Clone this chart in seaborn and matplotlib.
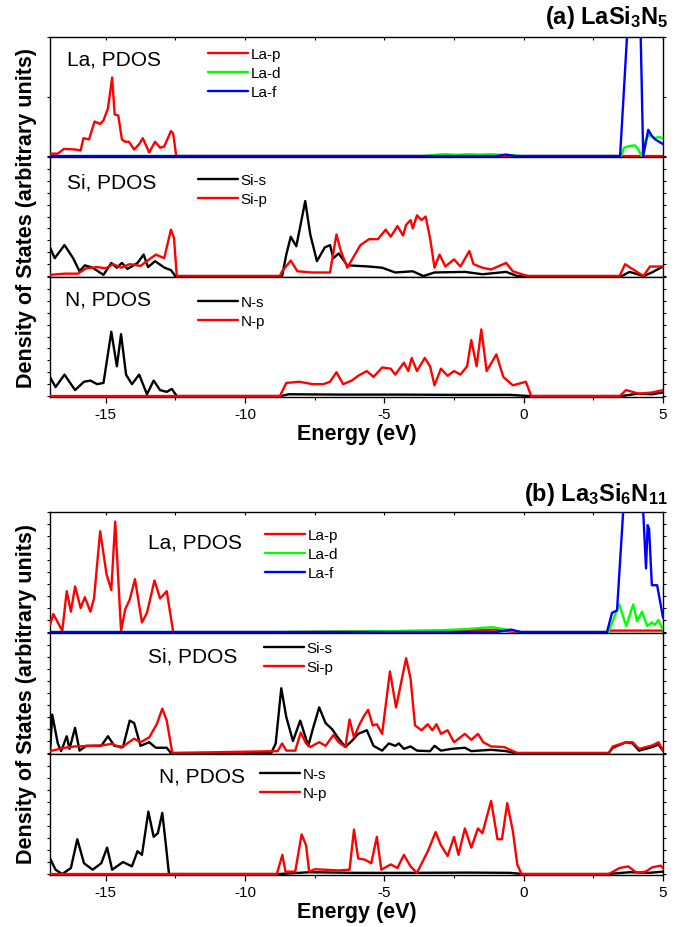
import matplotlib
matplotlib.use("Agg")
import matplotlib.pyplot as plt
from matplotlib.ticker import MultipleLocator, NullFormatter
import numpy as np
import pandas as pd
import seaborn as sns

# ---------------- data (energies in eV, DOS in arbitrary units) ----------------
x_ticks = [-15, -10, -5, 0, 5]
x_range = [-17, 5]

# (a) LaSi3N5 -- La
a_la_p_E = [-17, -16.72, -16.5, -16.1, -15.9, -15.8, -15.6, -15.4, -15.2, -15.08, -14.92, -14.77,
            -14.68, -14.55, -14.42, -14.3, -14.17, -13.98, -13.8, -13.67, -13.44, -13.23, -13.05,
            -12.9, -12.66, -12.58, -12.47, 5]
a_la_p_V = [0.02, 0.02, 0.06, 0.055, 0.047, 0.15, 0.14, 0.29, 0.27, 0.30, 0.40, 0.66,
            0.35, 0.34, 0.14, 0.12, 0.12, 0.055, 0.10, 0.15, 0.03, 0.12, 0.07,
            0.08, 0.21, 0.19, 0.0, 0.0]
a_la_d_E = [-17, -3.6, -3.2, -2.8, -2.4, -2.0, -1.6, -1.2, -0.8, -0.4, -0.1, 3.5, 3.6, 3.8, 4.0,
            4.1, 4.23, 4.35, 4.5, 4.7, 4.85, 5]
a_la_d_V = [0, 0, 0.01, 0.015, 0.01, 0.015, 0.012, 0.015, 0.01, 0.008, 0, 0, 0.07, 0.085, 0.09,
            0.06, 0, 0.12, 0.18, 0.15, 0.16, 0.15]
a_la_f_E = [-17, -1.0, -0.63, -0.3, 3.46, 3.72, 3.9, 4.05, 4.2, 4.29, 4.47, 4.6, 4.72, 5]
a_la_f_V = [0, 0, 0.012, 0, 0, 1.05, 1.8, 1.8, 1.0, 0.0, 0.22, 0.17, 0.14, 0.10]

# (a) LaSi3N5 -- Si
a_si_s_E = [-17, -16.83, -16.48, -16.17, -15.94, -15.75, -15.47, -15.08, -14.8, -14.6, -14.42,
            -14.22, -13.86, -13.64, -13.48, -13.23, -12.89, -12.66, -12.5, -8.67, -8.52, -8.36,
            -8.16, -7.84, -7.66, -7.42, -7.14, -6.95, -6.83, -6.64, -6.33, -5.55, -5.08, -4.61,
            -3.98, -3.6, -3.2, -2.11, -1.48, -0.63, -0.23, 3.52, 3.8, 4.3, 4.6, 5]
a_si_s_V = [0.24, 0.15, 0.26, 0.15, 0.04, 0.09, 0.07, 0.01, 0.11, 0.07, 0.11,
            0.06, 0.11, 0.18, 0.075, 0.125, 0.07, 0.05, 0.0, 0.0, 0.18, 0.33,
            0.25, 0.63, 0.35, 0.125, 0.24, 0.26, 0.15, 0.19, 0.09, 0.08, 0.07, 0.03,
            0.04, 0.0, 0.03, 0.035, 0.015, 0.035, 0.0, 0.0, 0.035, 0.0, 0.03, 0.08]
a_si_p_E = [-17, -16.48, -16.0, -15.7, -15.3, -15.0, -14.73, -14.45, -14.14, -13.75, -13.44,
            -13.2, -12.9, -12.66, -12.55, -12.45, -8.75, -8.67, -8.36, -8.12, -7.58, -6.95,
            -6.72, -6.56, -6.33, -5.86, -5.55, -5.23, -4.95, -4.77, -4.53, -4.33, -4.22, -4.06,
            -3.98, -3.83, -3.67, -3.52, -3.36, -3.2, -3.02, -2.81, -2.5, -2.27, -1.95, -1.8,
            -1.48, -1.17, -0.63, -0.39, 0.0, 0.16, 3.44, 3.64, 3.83, 4.3, 4.53, 5]
a_si_p_V = [0.01, 0.02, 0.02, 0.065, 0.075, 0.065, 0.10, 0.07, 0.10, 0.085, 0.14,
            0.18, 0.15, 0.39, 0.32, 0.0, 0.0, 0.04, 0.13, 0.04, 0.03, 0.03,
            0.35, 0.21, 0.07, 0.26, 0.31, 0.31, 0.39, 0.33, 0.42, 0.34, 0.43, 0.47,
            0.40, 0.51, 0.47, 0.50, 0.32, 0.07, 0.18, 0.08, 0.14, 0.08, 0.21, 0.10,
            0.07, 0.055, 0.11, 0.04, 0.01, 0.0, 0.0, 0.10, 0.07, 0.0, 0.08, 0.08]

# (a) LaSi3N5 -- N
a_n_s_E = [-17, -16.8, -16.48, -16.1, -15.78, -15.55, -15.31, -15.08, -14.8, -14.6, -14.45,
           -14.27, -14.06, -13.8, -13.52, -13.28, -13.05, -12.81, -12.63, -12.45, -8.7, -8.44,
           -6.5, -4.5, -2.5, -0.5, 0.2, 3.5, 4.1, 4.6, 5]
a_n_s_V = [0.16, 0.075, 0.18, 0.05, 0.12, 0.13, 0.10, 0.11, 0.54, 0.25, 0.52,
           0.18, 0.10, 0.18, 0.015, 0.13, 0.05, 0.035, 0.06, 0.0, 0.0, 0.015,
           0.012, 0.012, 0.01, 0.01, 0.0, 0.0, 0.02, 0.015, 0.03]
a_n_p_E = [-17, -8.75, -8.52, -8.05, -7.58, -7.19, -6.95, -6.72, -6.48, -6.17, -5.94, -5.63,
           -5.39, -5.08, -4.77, -4.61, -4.3, -4.14, -4.02, -3.83, -3.55, -3.36, -3.2, -2.97,
           -2.73, -2.5, -2.27, -2.03, -1.88, -1.69, -1.52, -1.33, -0.98, -0.73, -0.39, 0.08,
           0.27, 3.45, 3.67, 4.14, 4.61, 5]
a_n_p_V = [0.0, 0.0, 0.11, 0.12, 0.10, 0.10, 0.12, 0.20, 0.10, 0.13, 0.17, 0.21,
           0.16, 0.24, 0.23, 0.18, 0.28, 0.21, 0.32, 0.21, 0.32, 0.25, 0.09, 0.23,
           0.17, 0.21, 0.18, 0.25, 0.47, 0.25, 0.56, 0.21, 0.35, 0.16, 0.09, 0.12,
           0.0, 0.0, 0.05, 0.02, 0.03, 0.05]

# (b) La3Si6N11 -- La
b_la_p_E = [-17, -16.88, -16.56, -16.4, -16.25, -16.1, -15.9, -15.75, -15.55, -15.42, -15.2,
            -14.97, -14.8, -14.66, -14.45, -14.3, -14.14, -13.95, -13.7, -13.52, -13.25, -13.05,
            -12.81, -12.58, -8.5, -3.0, -2.0, -1.0, -0.3, 2.95, 3.1, 5]
b_la_p_V = [0.06, 0.15, 0.01, 0.34, 0.17, 0.38, 0.20, 0.29, 0.17, 0.28, 0.84,
            0.48, 0.35, 0.92, 0.01, 0.19, 0.27, 0.44, 0.08, 0.16, 0.43, 0.28,
            0.34, 0.0, 0.0, 0.01, 0.015, 0.02, 0.0, 0.0, 0.012, 0.012]
b_la_d_E = [-17, -8.8, -6.0, -4.0, -3.0, -2.0, -1.5, -1.1, -0.6, -0.1, 3.04, 3.43, 3.68, 3.93,
            4.07, 4.25, 4.43, 4.6, 4.71, 4.83, 5]
b_la_d_V = [0, 0, 0.005, 0.01, 0.015, 0.025, 0.035, 0.04, 0.02, 0.0, 0.0, 0.23, 0.05, 0.23,
            0.09, 0.17, 0.05, 0.08, 0.06, 0.10, 0.02]
b_la_f_E = [-17, -1.0, -0.45, -0.1, 2.99, 3.17, 3.35, 3.57, 3.8, 4.1, 4.29, 4.39, 4.45, 4.5,
            4.6, 4.79, 5]
b_la_f_V = [0, 0, 0.02, 0, 0, 0.16, 0.18, 1.0, 1.6, 1.6, 1.0, 0.53, 0.89, 0.86,
            0.39, 0.39, 0.12]

# (b) La3Si6N11 -- Si
b_si_s_E = [-17, -16.92, -16.72, -16.6, -16.4, -16.3, -16.1, -15.94, -15.7, -15.16, -14.92,
            -14.69, -14.38, -14.14, -13.98, -13.75, -13.44, -13.2, -12.81, -12.66, -9.06, -8.9,
            -8.7, -8.52, -8.28, -8.02, -7.73, -7.58, -7.34, -7.11, -6.88, -6.64, -6.4, -6.17,
            -5.94, -5.63, -5.39, -5.08, -4.84, -4.61, -4.48, -4.3, -4.06, -3.83, -3.36, -3.2,
            -2.97, -2.58, -2.11, -1.88, -1.17, -0.63, -0.31, 3.05, 3.2, 3.67, 3.91, 4.14, 4.61,
            4.84, 5]
b_si_s_V = [0.0, 0.32, 0.08, 0.016, 0.14, 0.035, 0.21, 0.02, 0.06, 0.06, 0.14,
            0.06, 0.05, 0.27, 0.25, 0.06, 0.09, 0.044, 0.044, 0.0, 0.0, 0.08,
            0.54, 0.30, 0.10, 0.27, 0.06, 0.19, 0.38, 0.25, 0.20, 0.12, 0.05, 0.10,
            0.16, 0.19, 0.06, 0.02, 0.08, 0.06, 0.08, 0.035, 0.055, 0.02, 0.016, 0.06,
            0.02, 0.035, 0.044, 0.016, 0.027, 0.016, 0.0, 0.0, 0.044, 0.09, 0.08, 0.02, 0.05,
            0.07, 0.02]
b_si_p_E = [-17, -16.48, -16.1, -15.16, -14.77, -14.45, -13.98, -13.75, -13.44, -13.17, -12.97,
            -12.81, -12.61, -8.83, -8.67, -8.52, -8.2, -8.0, -7.81, -7.66, -7.34, -7.11, -6.83,
            -6.64, -6.4, -6.25, -6.09, -5.89, -5.73, -5.58, -5.42, -5.27, -5.08, -4.8, -4.58,
            -4.22, -4.06, -3.9, -3.67, -3.44, -3.28, -3.13, -2.97, -2.73, -2.5, -2.11, -1.88,
            -1.64, -1.45, -1.17, -0.7, -0.23, 3.05, 3.2, 3.67, 3.91, 4.14, 4.61, 4.84, 5]
b_si_p_V = [0.016, 0.044, 0.055, 0.063, 0.077, 0.044, 0.12, 0.09, 0.13, 0.24, 0.37,
            0.27, 0.0, 0.016, 0.08, 0.02, 0.02, 0.17, 0.08, 0.05, 0.09, 0.06, 0.15,
            0.09, 0.05, 0.28, 0.13, 0.24, 0.31, 0.36, 0.23, 0.24, 0.16, 0.68, 0.38,
            0.79, 0.62, 0.23, 0.19, 0.24, 0.19, 0.24, 0.16, 0.19, 0.09, 0.16, 0.11,
            0.16, 0.09, 0.055, 0.05, 0.0, 0.0, 0.055, 0.09, 0.09, 0.035, 0.063, 0.09, 0.02]

# (b) La3Si6N11 -- N
b_n_s_E = [-17, -16.8, -16.56, -16.25, -16.02, -15.78, -15.47, -15.16, -14.95, -14.77, -14.38,
           -14.06, -13.86, -13.7, -13.47, -13.28, -13.13, -12.97, -12.84, -12.73, -8.8, -7.7,
           -6.0, -4.0, -2.0, -0.5, 0.0, 3.0, 3.8, 4.5, 5]
b_n_s_V = [0.13, 0.036, 0.0, 0.05, 0.29, 0.09, 0.036, 0.09, 0.22, 0.036, 0.10,
           0.064, 0.19, 0.16, 0.52, 0.31, 0.34, 0.51, 0.24, 0.0, 0.0, 0.015,
           0.01, 0.01, 0.012, 0.01, 0.0, 0.0, 0.015, 0.01, 0.02]
b_n_p_E = [-17, -8.86, -8.66, -8.55, -8.2, -7.97, -7.81, -7.7, -7.5, -6.64, -6.25, -6.09,
           -5.94, -5.7, -5.47, -5.27, -5.11, -4.77, -4.53, -4.3, -4.06, -3.83, -3.44, -3.16,
           -2.97, -2.73, -2.5, -2.34, -2.11, -1.88, -1.64, -1.48, -1.17, -0.94, -0.78, -0.59,
           -0.39, -0.23, -0.08, 3.05, 3.44, 3.75, 4.06, 4.38, 4.61, 4.92, 5]
b_n_p_V = [0.0, 0.0, 0.16, 0.02, 0.02, 0.33, 0.24, 0.02, 0.04, 0.03, 0.036, 0.37,
           0.13, 0.12, 0.09, 0.31, 0.036, 0.08, 0.05, 0.16, 0.064, 0.01, 0.19, 0.35,
           0.24, 0.15, 0.31, 0.16, 0.38, 0.22, 0.38, 0.34, 0.61, 0.29, 0.29, 0.59,
           0.36, 0.08, 0.0, 0.0, 0.05, 0.064, 0.01, 0.02, 0.056, 0.07, 0.05]

titles = ["(a) LaSi$_3$N$_5$", "(b) La$_3$Si$_6$N$_{11}$"]
panel_names = ["La, PDOS", "Si, PDOS", "N, PDOS"]
legend_labels = [["La-p", "La-d", "La-f"], ["Si-s", "Si-p"], ["N-s", "N-p"]]
colors = {"La-p": "#ff0000", "La-d": "#00ff00", "La-f": "#0000ff",
          "Si-s": "#000000", "Si-p": "#ff0000", "N-s": "#000000", "N-p": "#ff0000"}
y_label = "Density of States (arbitrary units)"
x_label = "Energy (eV)"

groups = [
    [[(a_la_p_E, a_la_p_V), (a_la_d_E, a_la_d_V), (a_la_f_E, a_la_f_V)],
     [(a_si_s_E, a_si_s_V), (a_si_p_E, a_si_p_V)],
     [(a_n_s_E, a_n_s_V), (a_n_p_E, a_n_p_V)]],
    [[(b_la_p_E, b_la_p_V), (b_la_d_E, b_la_d_V), (b_la_f_E, b_la_f_V)],
     [(b_si_s_E, b_si_s_V), (b_si_p_E, b_si_p_V)],
     [(b_n_s_E, b_n_s_V), (b_n_p_E, b_n_p_V)]],
]

# ---------------- layout (pixels) ----------------
W, H = 682, 928
LEFT, RIGHT = 50, 663
panel_bounds = [[(38, 158), (158, 278), (278, 398)],
                [(513, 634), (634, 755), (755, 876)]]
name_pos = [[(67, 60), (67, 183), (65, 300)],
            [(148, 543), (148, 657), (159, 777)]]
legend_pos = [[(208, 48), (198, 174), (198, 296)],
              [(265, 529), (264, 642), (260, 768)]]
ytick_step = [[0.5, 0.1, 0.1], [0.1, 0.1, 0.1]]

sns.set_style("ticks")
plt.rcParams["font.family"] = ["Liberation Sans", "DejaVu Sans"]
plt.rcParams["mathtext.default"] = "regular"
plt.rcParams["axes.unicode_minus"] = False
for key in ["text.color", "axes.labelcolor", "xtick.color", "ytick.color", "axes.edgecolor"]:
    plt.rcParams[key] = "black"

fig = plt.figure(figsize=(W / 100, H / 100), dpi=100)

for g in range(2):
    for p in range(3):
        top, bot = panel_bounds[g][p]
        ax = fig.add_axes([LEFT / W, 1 - bot / H, (RIGHT - LEFT) / W, (bot - top) / H])
        for (E, V), lab in zip(groups[g][p], legend_labels[p]):
            df = pd.DataFrame({"E": E, "V": V})
            sns.lineplot(data=df, x="E", y="V", ax=ax, color=colors[lab], lw=1.7,
                         label=lab, estimator=None, sort=False, zorder=3)
        ax.set_xlim(*x_range)
        ax.set_ylim(-0.008, 1.0)
        ax.set_xlabel("")
        ax.set_ylabel("")
        for s in ax.spines.values():
            s.set_linewidth(1.0)
            s.set_color("black")
        ax.yaxis.set_major_locator(MultipleLocator(ytick_step[g][p]))
        ax.yaxis.set_major_formatter(NullFormatter())
        ax.tick_params(axis="y", which="both", direction="out", length=2, width=0.8,
                       left=True, right=True, colors="black")
        ax.set_xticks(x_ticks)
        ax.xaxis.set_minor_locator(MultipleLocator(2.5))
        if p == 2:
            ax.tick_params(axis="x", which="major", direction="out", length=4, width=0.9,
                           labelsize=11, pad=3, colors="black")
            ax.tick_params(axis="x", which="minor", direction="out", length=2.5, width=0.8,
                           colors="black")
        else:
            ax.tick_params(axis="x", which="both", bottom=False, labelbottom=False,
                           top=(p == 0), direction="in", length=2.5, width=0.8)
        # panel label
        nx, ny = name_pos[g][p]
        ax.text((nx - LEFT) / (RIGHT - LEFT), 1 - (ny - top) / (bot - top), panel_names[p],
                transform=ax.transAxes, fontsize=15, ha="left", va="center", color="black")
        lx, ly = legend_pos[g][p]
        leg = ax.legend(loc="upper left",
                        bbox_to_anchor=((lx - LEFT) / (RIGHT - LEFT), 1 - (ly - top) / (bot - top)),
                        frameon=False, fontsize=11, handlelength=2.6, handletextpad=0.2,
                        labelspacing=0.33, borderpad=0, borderaxespad=0)
        for t in leg.get_texts():
            t.set_color("black")
    # titles & labels
    fig.text(668 / W, 1 - [24, 501][g] / H, titles[g], ha="right", va="baseline",
             fontsize=17, fontweight="bold")
    gtop, gbot = panel_bounds[g][0][0], panel_bounds[g][2][1]
    fig.text(27 / W, 1 - (gtop + gbot) / 2 / H, y_label, rotation=90, ha="center",
             va="center", fontsize=15.5, fontweight="bold")
    fig.text((LEFT + RIGHT) / 2 / W, 1 - (gbot + 37) / H, x_label, ha="center",
             va="center", fontsize=15.5, fontweight="bold")

fig.savefig("out.png", dpi=100)
